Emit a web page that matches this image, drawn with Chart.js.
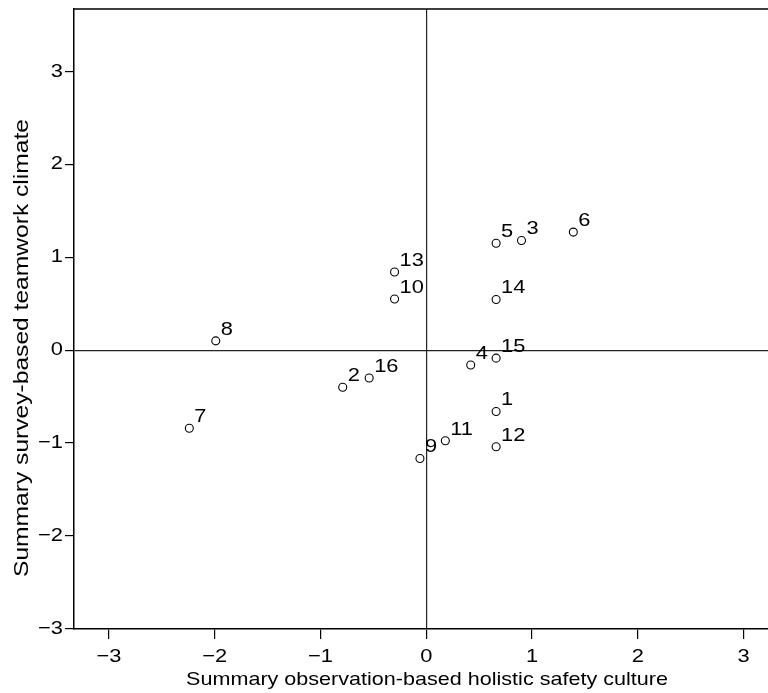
<!DOCTYPE html>
<html>
<head>
<meta charset="utf-8">
<script src="https://cdn.jsdelivr.net/npm/chart.js@4/dist/chart.umd.min.js"></script>
<style>
html,body{margin:0;padding:0;background:#fff;}
#wrap{width:768px;height:693px;position:relative;}
</style>
</head>
<body>
<div id="wrap"><canvas id="c"></canvas></div>
<script>
const ids   = ["1","2","3","4","5","6","7","8","9","10","11","12","13","14","15","16"];
const xVals = [0.66,-0.79,0.90,0.42,0.66,1.39,-2.24,-1.99,-0.06,-0.30,0.18,0.66,-0.30,0.66,0.66,-0.54];
const yVals = [-0.66,-0.40,1.18,-0.16,1.15,1.27,-0.84,0.10,-1.165,0.55,-0.975,-1.04,0.84,0.545,-0.086,-0.30];
const tickValues = [-3,-2,-1,0,1,2,3];
const xTitle = "Summary observation-based holistic safety culture";
const yTitle = "Summary survey-based teamwork climate";

const FONT = '"Liberation Sans", Arial, Helvetica, sans-serif';
const FS = 19;
const TICK_STRETCH = 1.15;
let stretch = TICK_STRETCH;
const points = xVals.map((x,i)=>({x:x, y:yVals[i]}));
const fmt = v => v < 0 ? '\u2212' + Math.abs(v) : String(v);

const canvas = document.getElementById('c');
const c2d = canvas.getContext('2d');
const origFill = c2d.fillText;
c2d.fillText = function(t, x, y, maxW){
  this.save();
  this.translate(x, y);
  this.scale(stretch, 1);
  origFill.call(this, t, 0, 0);
  this.restore();
};

const labelPlugin = {
  id:'labels',
  afterDatasetsDraw(chart){
    const ctx = chart.ctx;
    const meta = chart.getDatasetMeta(0);
    ctx.save();
    ctx.font = FS + 'px ' + FONT;
    ctx.fillStyle = '#000';
    ctx.textAlign = 'left';
    ctx.textBaseline = 'alphabetic';
    meta.data.forEach((pt,i)=>{
      ctx.fillText(ids[i], pt.x + 5, pt.y - 6);
    });
    ctx.restore();
  },
  afterDraw(chart){
    const {ctx, chartArea} = chart;
    ctx.save();
    ctx.strokeStyle = '#000';
    ctx.lineWidth = 1.5;
    ctx.beginPath();
    ctx.moveTo(chartArea.left, chartArea.top);
    ctx.lineTo(chart.width, chartArea.top);
    ctx.stroke();
    ctx.fillStyle = '#000';
    ctx.textAlign = 'center';
    ctx.textBaseline = 'middle';
    // x axis title
    ctx.font = '19px ' + FONT;
    stretch = 1.135;
    ctx.fillText(xTitle, 427, 680);
    // y axis title
    ctx.font = '20px ' + FONT;
    stretch = 1.23;
    ctx.translate(22, 348);
    ctx.rotate(-Math.PI/2);
    ctx.fillText(yTitle, 0, 0);
    stretch = TICK_STRETCH;
    ctx.restore();
  }
};

const gridColor = ctx => (ctx.tick && ctx.tick.value === 0) ? '#222' : 'rgba(0,0,0,0)';

new Chart(canvas, {
  type:'scatter',
  data:{datasets:[{
    data: points,
    pointStyle:'circle',
    pointRadius:4,
    pointHoverRadius:4,
    borderWidth:1.1,
    borderColor:'#000',
    backgroundColor:'rgba(255,255,255,0)'
  }]},
  options:{
    responsive:true,
    maintainAspectRatio:false,
    animation:false,
    layout:{autoPadding:false, padding:{top:9,right:0,left:0,bottom:0}},
    plugins:{legend:{display:false},tooltip:{enabled:false}},
    scales:{
      x:{
        type:'linear', min:-3.33, max:3.23,
        afterBuildTicks: s => { s.ticks = tickValues.map(v=>({value:v})); },
        afterFit: s => { s.height = 64; s.paddingLeft = 0; s.paddingRight = 0; },
        grid:{color:gridColor, lineWidth:1.2, tickColor:'#000', tickLength:10, drawTicks:true},
        border:{display:true, color:'#000', width:1.5},
        ticks:{color:'#000', font:{family:FONT,size:FS}, padding:6, callback: v => fmt(v), maxRotation:0, autoSkip:false},
        title:{display:false}
      },
      y:{
        type:'linear', min:-3, max:3.67,
        afterBuildTicks: s => { s.ticks = tickValues.map(v=>({value:v})); },
        afterFit: s => { s.width = 74; s.paddingTop = 0; s.paddingBottom = 0; },
        grid:{color:gridColor, lineWidth:1.2, tickColor:'#000', tickLength:9, drawTicks:true},
        border:{display:true, color:'#000', width:1.5},
        ticks:{color:'#000', font:{family:FONT,size:FS}, padding:2, callback: v => fmt(v), autoSkip:false},
        title:{display:false}
      }
    }
  },
  plugins:[labelPlugin]
});
</script>
</body>
</html>
